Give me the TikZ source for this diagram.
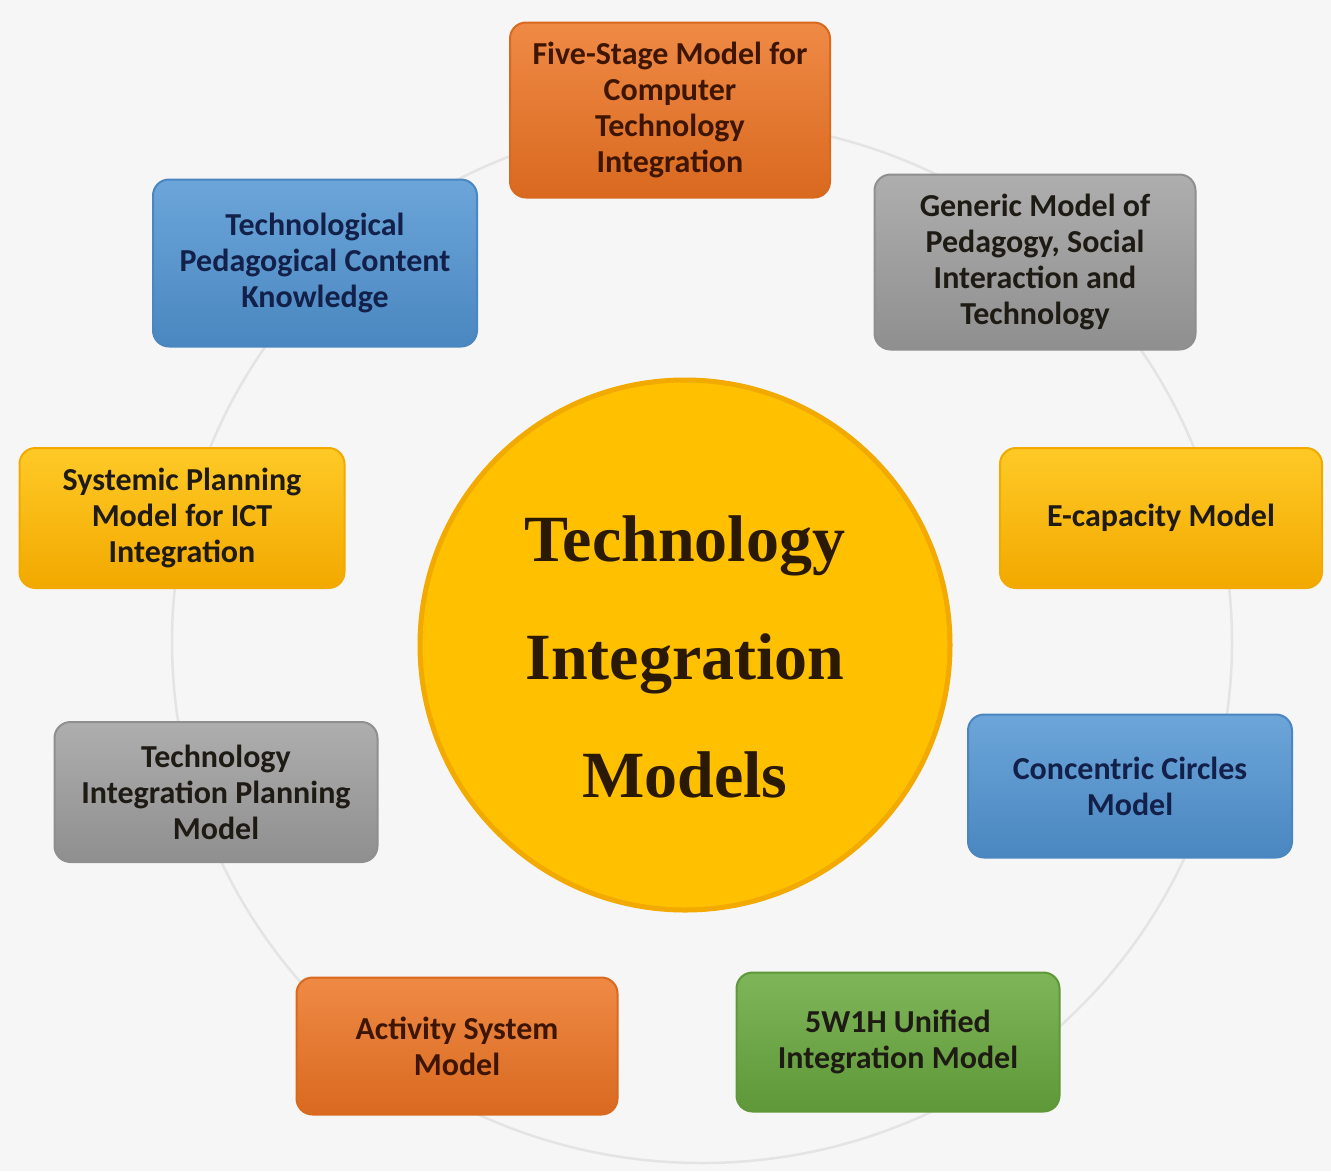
\documentclass[tikz,border=0pt]{standalone}
\usepackage{fontspec}
\setmainfont{Carlito}
\newfontfamily\titlefont{Liberation Serif}
\definecolor{bg}{HTML}{F6F6F6}
\definecolor{ringc}{HTML}{E4E4E4}
\definecolor{orangef}{HTML}{ED7D31}
\definecolor{oranged}{HTML}{D9691F}
\definecolor{bluef}{HTML}{5B9BD5}
\definecolor{blued}{HTML}{4A87C0}
\definecolor{grayf}{HTML}{A5A5A5}
\definecolor{grayd}{HTML}{8F8F8F}
\definecolor{goldf}{HTML}{FFC000}
\definecolor{goldd}{HTML}{F2A900}
\definecolor{greenf}{HTML}{70AD47}
\definecolor{greend}{HTML}{5E9838}
\definecolor{txtbrown}{HTML}{3D1500}
\definecolor{txtnavy}{HTML}{12204A}
\definecolor{txtdark}{HTML}{1E1A14}
\definecolor{titlec}{HTML}{2A1A05}
\tikzset{
  box/.style={rounded corners=16pt, line width=2pt, align=center,
    inner sep=0pt, font=\bfseries\fontsize{32}{36}\selectfont},
  orangebox/.style={box, top color=orangef!90!white, bottom color=oranged, draw=oranged, text=txtbrown},
  bluebox/.style={box, top color=bluef!90!white, bottom color=blued, draw=blued, text=txtnavy},
  graybox/.style={box, top color=grayf!90!white, bottom color=grayd, draw=grayd, text=txtdark},
  goldbox/.style={box, top color=goldf!85!white, bottom color=goldd, draw=goldd, text=txtdark},
  greenbox/.style={box, top color=greenf!90!white, bottom color=greend, draw=greend, text=txtdark},
  ring/.style={draw=ringc, line width=2.5pt},
}
\begin{document}
\begin{tikzpicture}[x=1pt,y=-1pt]
\fill[bg] (0,0) rectangle (1331,1171);
\useasboundingbox (0,0) rectangle (1331,1171);
% faint ring behind the boxes
\draw[ring] (702,642) ellipse [x radius=530, y radius=521];
% centre circle
\node[circle, minimum size=530pt, fill=goldf, draw=goldd, line width=5pt,
  inner sep=0pt] (center) at (685,645) {};
\node[text=titlec, align=center, inner sep=0pt,
  font=\titlefont\bfseries\fontsize{66}{118}\selectfont] (title) at (685,657)
  {Technology\\Integration\\Models};
% boxes
\node[orangebox, minimum width=320pt, minimum height=175pt] (five) at (670,110)
  {Five-Stage Model for\\Computer\\Technology\\Integration};
\node[bluebox, minimum width=324pt, minimum height=167pt] (tpck) at (315,263)
  {Technological\\Pedagogical Content\\Knowledge};
\node[graybox, minimum width=321pt, minimum height=175pt] (gen) at (1035,262)
  {Generic Model of\\Pedagogy, Social\\Interaction and\\Technology};
\node[goldbox, minimum width=325pt, minimum height=140pt] (sys) at (182,518)
  {Systemic Planning\\Model for ICT\\Integration};
\node[goldbox, minimum width=322pt, minimum height=140pt] (ecap) at (1161,518)
  {E-capacity Model};
\node[graybox, minimum width=323pt, minimum height=140pt] (tipm) at (216,792)
  {Technology\\Integration Planning\\Model};
\node[bluebox, minimum width=324pt, minimum height=143pt] (conc) at (1130,786)
  {Concentric Circles\\Model};
\node[orangebox, minimum width=321pt, minimum height=137pt] (act) at (457,1046)
  {Activity System\\Model};
\node[greenbox, minimum width=323pt, minimum height=139pt] (fivew) at (898,1042)
  {5W1H Unified\\Integration Model};
\end{tikzpicture}
\end{document}
